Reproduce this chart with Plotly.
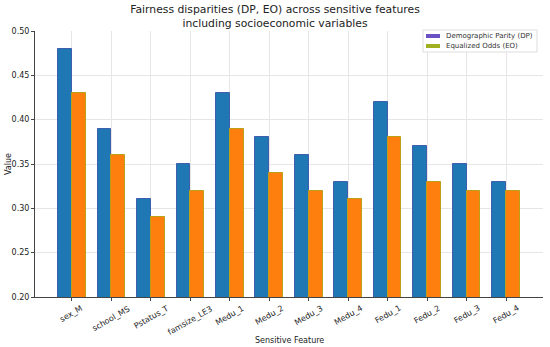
import plotly.graph_objects as go

features = ["sex_M", "school_MS", "Pstatus_T", "famsize_LE3", "Medu_1", "Medu_2",
            "Medu_3", "Medu_4", "Fedu_1", "Fedu_2", "Fedu_3", "Fedu_4"]
dp_values = [0.48, 0.39, 0.31, 0.35, 0.43, 0.38, 0.36, 0.33, 0.42, 0.37, 0.35, 0.33]
eo_values = [0.43, 0.36, 0.29, 0.32, 0.39, 0.34, 0.32, 0.31, 0.38, 0.33, 0.32, 0.32]
y_ticks = [0.20, 0.25, 0.30, 0.35, 0.40, 0.45, 0.50]
legend_labels = ["Demographic Parity (DP)", "Equalized Odds (EO)"]
legend_colors = ["#6a51c4", "#a0b020"]

FONT = "DejaVu Sans"
W, H = 550, 347
ML, MR, MT, MB = 35, 7, 31, 50
PW, PH = W - ML - MR, H - MT - MB
idx = list(range(len(features)))
w = 0.35


def px(x):
    return (x - ML) / PW


def py(y):
    return (H - MB - y) / PH


fig = go.Figure()
fig.add_trace(go.Bar(x=[i - w / 2 for i in idx], y=dp_values, width=w,
                     name=legend_labels[0],
                     marker=dict(color="#1f77b4", line=dict(width=1, color="#3f5fae")),
                     showlegend=False))
fig.add_trace(go.Bar(x=[i + w / 2 for i in idx], y=eo_values, width=w,
                     name=legend_labels[1],
                     marker=dict(color="#ff7f0e", line=dict(width=1, color="#b9a018")),
                     showlegend=False))

annotations = []
for i, f in enumerate(features):
    annotations.append(dict(x=i, y=0, xref="x", yref="paper", text=f,
                            showarrow=False, textangle=-30, yanchor="top",
                            xanchor="center", yshift=-4,
                            font=dict(family=FONT, size=8, color="#222")))

# compact legend box (matplotlib style)
shapes = [dict(type="rect", xref="paper", yref="paper",
               x0=px(423), x1=px(537), y0=py(52), y1=py(30),
               fillcolor="rgba(255,255,255,0.9)", line=dict(color="#dddddd", width=1))]
for k, (lab, col) in enumerate(zip(legend_labels, legend_colors)):
    yc = 36 + 10 * k
    shapes.append(dict(type="rect", xref="paper", yref="paper",
                       x0=px(426), x1=px(440), y0=py(yc + 2), y1=py(yc - 2),
                       fillcolor=col, line=dict(width=0)))
    annotations.append(dict(x=px(444), y=py(yc), xref="paper", yref="paper",
                            text=lab, showarrow=False, xanchor="left", yanchor="middle",
                            font=dict(family=FONT, size=7, color="#333")))

annotations += [
    dict(x=0.5, y=py(334), xref="paper", yref="paper", text="Sensitive Feature",
         showarrow=False, yanchor="top", xanchor="center",
         font=dict(family=FONT, size=8, color="#222")),
    dict(x=px(8), y=0.5, xref="paper", yref="paper", text="Value",
         showarrow=False, textangle=-90, xanchor="center", yanchor="middle",
         font=dict(family=FONT, size=8, color="#222")),
]

fig.update_layout(
    width=W, height=H,
    margin=dict(l=ML, r=MR, t=MT, b=MB),
    paper_bgcolor="white", plot_bgcolor="white",
    barmode="overlay", bargap=0, showlegend=False,
    title=dict(text="Fairness disparities (DP, EO) across sensitive features<br>including socioeconomic variables",
               x=0.5, xanchor="center", y=0.962, yanchor="top",
               font=dict(family=FONT, size=10.8, color="#222")),
    annotations=annotations,
    shapes=shapes,
)
fig.update_xaxes(range=[-0.935, 11.935], tickmode="array", tickvals=idx,
                 showticklabels=False, showgrid=True, gridcolor="#e6e6e6",
                 showline=True, linecolor="#444", linewidth=1, zeroline=False,
                 ticks="outside", ticklen=3, tickcolor="#444")
fig.update_yaxes(range=[0.2, 0.5], tickmode="array", tickvals=y_ticks,
                 ticktext=[f"{v:.2f}" for v in y_ticks],
                 showgrid=True, gridcolor="#e6e6e6",
                 showline=True, linecolor="#444", linewidth=1, zeroline=False,
                 ticks="outside", ticklen=3, tickcolor="#444",
                 tickfont=dict(family=FONT, size=8, color="#222"))

fig.write_html("out.html", config={"displayModeBar": False},
               post_script="document.body.style.margin='0';")
